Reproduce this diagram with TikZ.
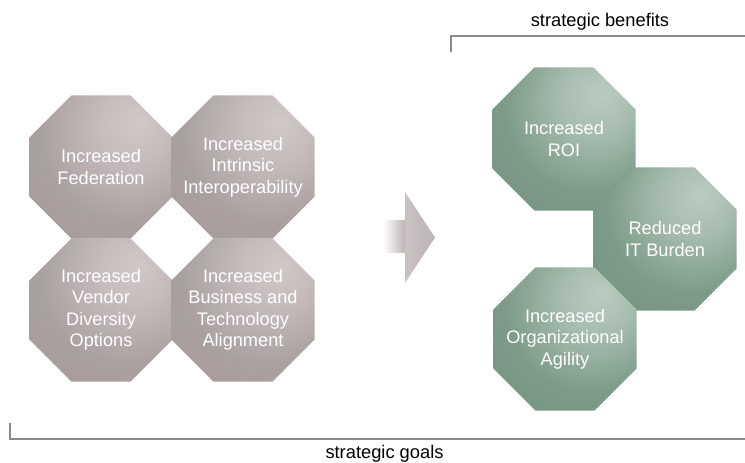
\documentclass[tikz,border=0pt]{standalone}
\usepackage{fontspec}
\setmainfont{Liberation Sans}
\usetikzlibrary{shapes.geometric}
\definecolor{greybase}{RGB}{164,153,152}
\definecolor{greylight}{RGB}{208,201,200}
\definecolor{greenbase}{RGB}{114,146,126}
\definecolor{greenlight}{RGB}{186,204,193}
\definecolor{linegrey}{RGB}{138,138,138}
\definecolor{arrowgrey}{RGB}{188,180,179}
\pgfdeclareradialshading{greyglow}{\pgfpoint{13bp}{16bp}}{%
  color(0bp)=(greylight); color(12bp)=(greylight!75!greybase);
  color(30bp)=(greybase!85!greylight); color(50bp)=(greybase); color(100bp)=(greybase)}
\pgfdeclareradialshading{greenglow}{\pgfpoint{13bp}{16bp}}{%
  color(0bp)=(greenlight); color(12bp)=(greenlight!75!greenbase);
  color(30bp)=(greenbase!85!greenlight); color(50bp)=(greenbase); color(100bp)=(greenbase)}
\begin{document}
\begin{tikzpicture}[x=1pt,y=-1pt,
  oct/.style={regular polygon, regular polygon sides=8, minimum size=154.8pt,
    inner sep=0pt, outer sep=0pt},
  greyoct/.style={oct, shading=greyglow},
  greenoct/.style={oct, shading=greenglow},
  octtext/.style={text=white, align=center, inner sep=0pt,
    font=\fontsize{18.2}{21.5}\selectfont},
  lbl/.style={font=\fontsize{18.3}{21}\selectfont, text=black, inner sep=0pt, anchor=base},
  bracket/.style={draw=linegrey, line width=1.3pt}
]
\useasboundingbox (0,0) rectangle (745,463);

% left group
\node[greyoct] (fed) at (101,167) {};
\node[greyoct] (iop) at (243,167) {};
\node[greyoct] (ven) at (101,310) {};
\node[greyoct] (bta) at (243,310) {};
\node[octtext] (fedt) at (fed.center) {Increased\\Federation};
\node[octtext] (iopt) at (iop.center) {Increased\\Intrinsic\\Interoperability};
\node[octtext] (vent) at (ven.center) {Increased\\Vendor\\Diversity\\Options};
\node[octtext] (btat) at (bta.center) {Increased\\Business and\\Technology\\Alignment};

% arrow
\shade[left color=white, right color=arrowgrey] (383,220) rectangle (405.5,252);
\shade[left color=arrowgrey!80!white, right color=arrowgrey]
  (405,192) -- (435,237.5) -- (405,283) -- cycle;

% right group
\node[greenoct] (roi) at (564,139) {};
\node[greenoct] (itb) at (665,239) {};
\node[greenoct] (agi) at (565,339) {};
\node[octtext] (roit) at (roi.center) {Increased\\ROI};
\node[octtext] (itbt) at (itb.center) {Reduced\\IT Burden};
\node[octtext] (agit) at (agi.center) {Increased\\Organizational\\Agility};

% brackets
\coordinate (bt0) at (451,52);
\coordinate (bt1) at (451,36);
\coordinate (bt2) at (745,36);
\draw[bracket] (bt0) -- (bt1) -- (bt2);
\node[lbl] (benefits) at (600,26) {strategic benefits};

\coordinate (bb0) at (10,423);
\coordinate (bb1) at (10,439);
\coordinate (bb2) at (745,439);
\draw[bracket] (bb0) -- (bb1) -- (bb2);
\node[lbl] (goals) at (384.5,458) {strategic goals};
\end{tikzpicture}
\end{document}
